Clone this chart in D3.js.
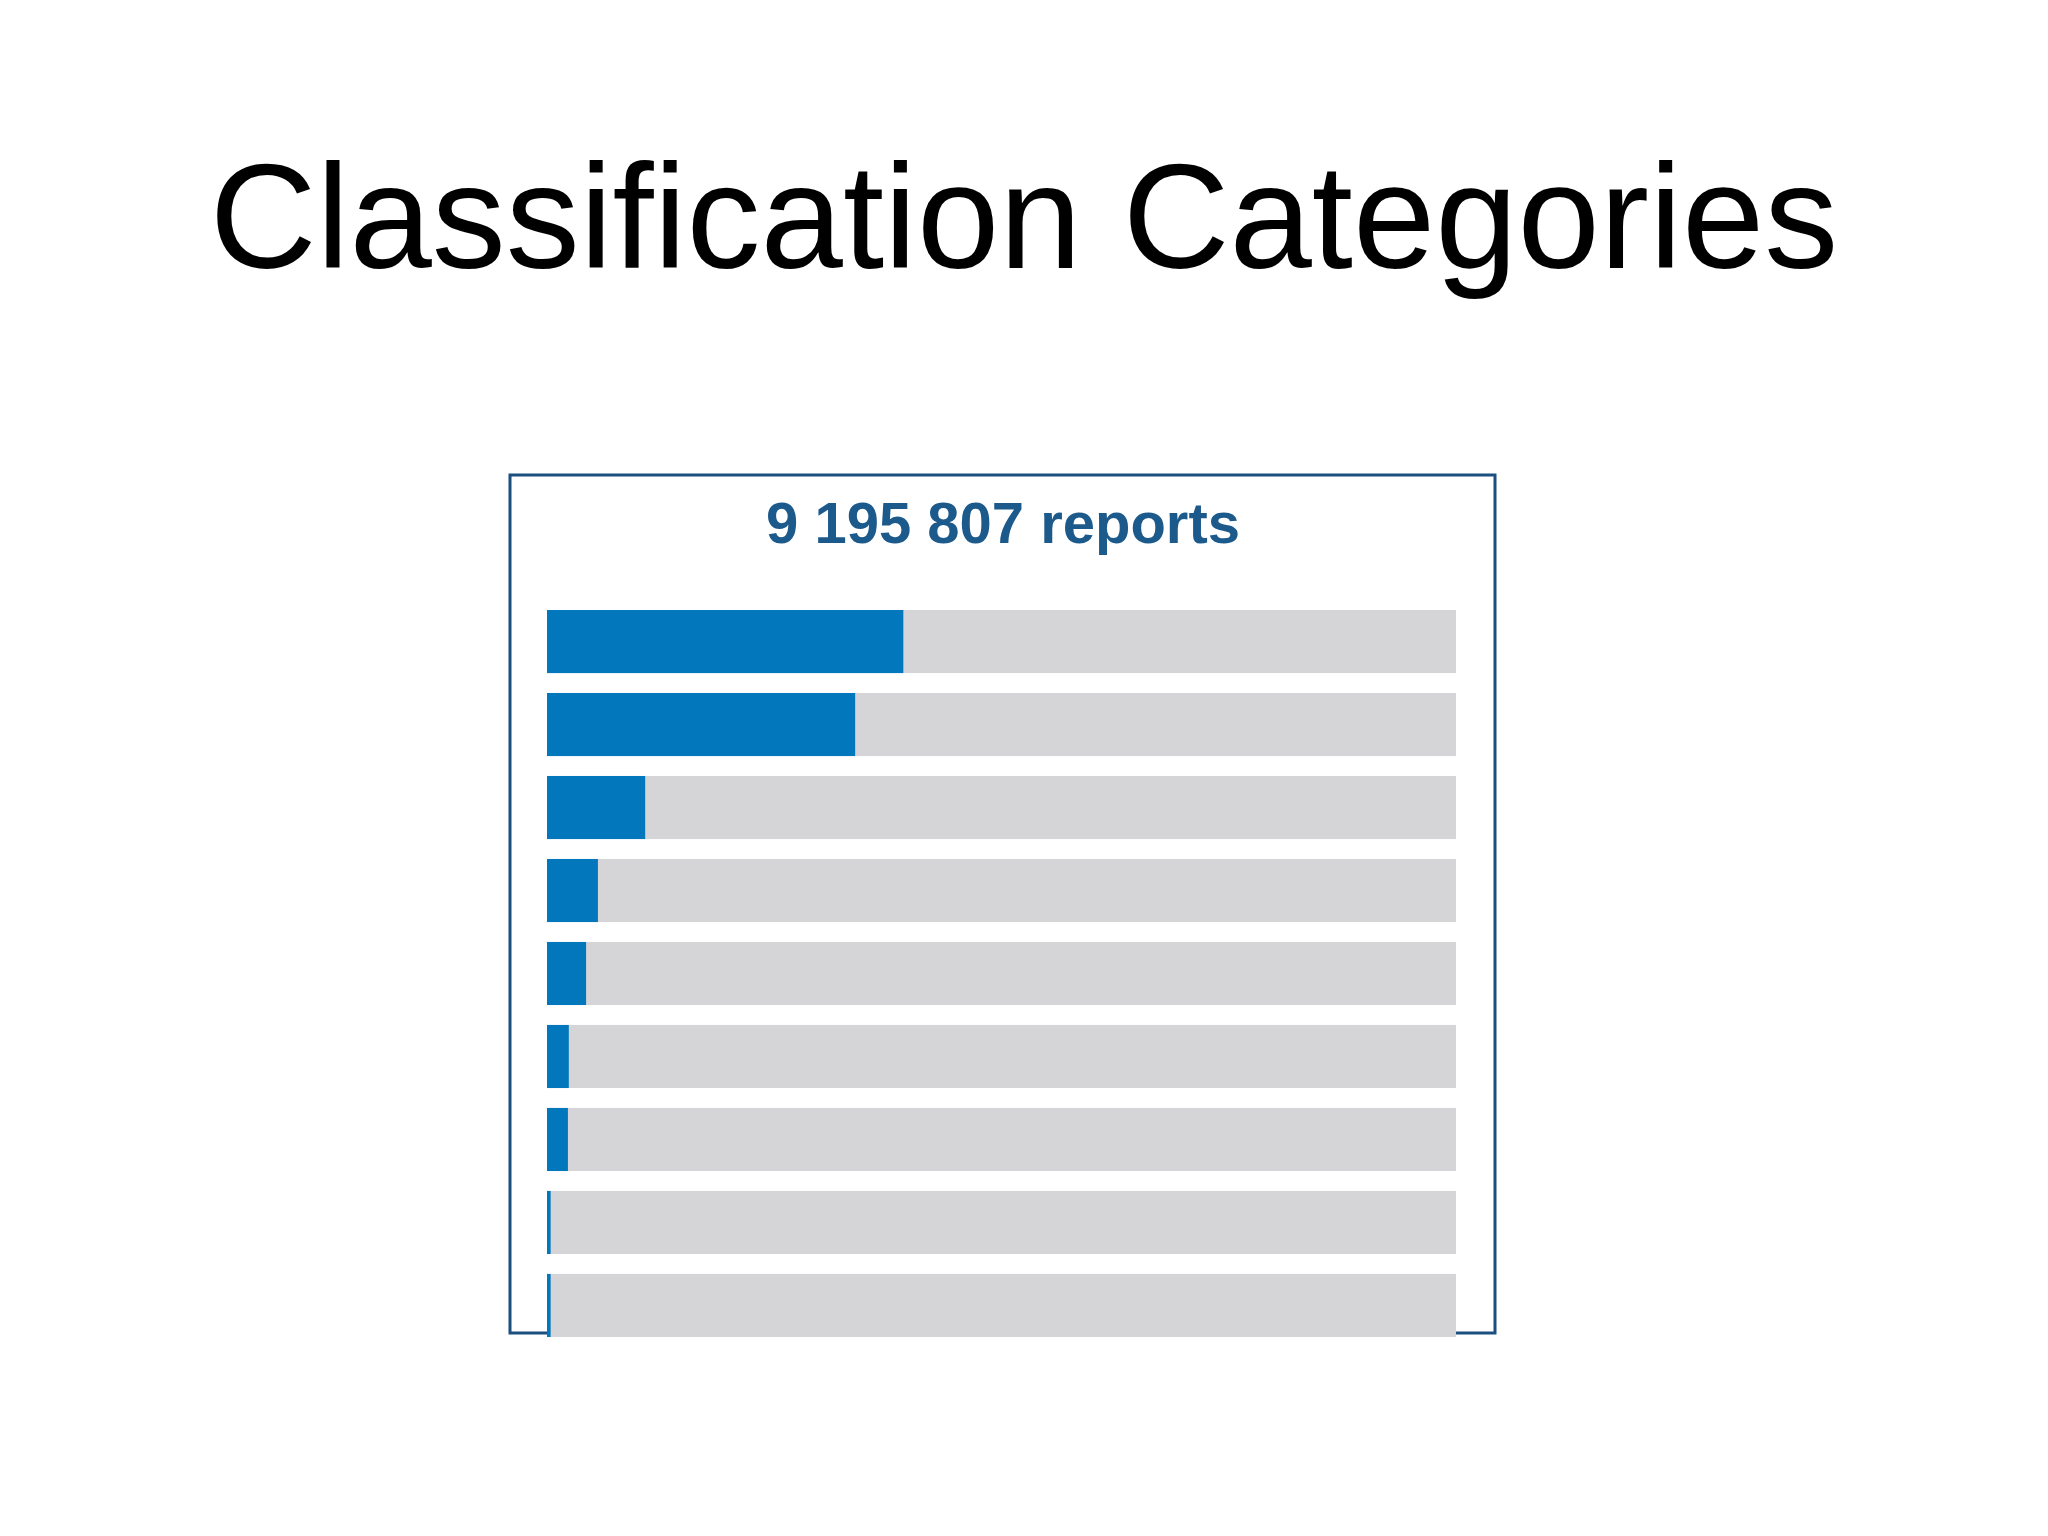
<!DOCTYPE html>
<html><head><meta charset="utf-8">
<script src="https://cdn.jsdelivr.net/npm/d3@7"></script>
<style>body{margin:0;background:#fff}</style></head>
<body><svg id="c" width="2048" height="1536"></svg>
<script>
const title = "Classification Categories";
const subtitle = "9 195 807 reports";
const categories = ["c1","c2","c3","c4","c5","c6","c7","c8","c9"];
const shares = [0.392,0.339,0.108,0.056,0.043,0.024,0.023,0.004,0.004];

const svg = d3.select("#c");
svg.append("rect").attr("width",2048).attr("height",1536).attr("fill","#fff");
svg.append("text").attr("x",1024).attr("y",268).attr("text-anchor","middle")
  .attr("font-family","Liberation Sans, Arial, sans-serif").attr("font-size",148)
  .attr("fill","#000").text(title);
svg.append("rect").attr("x",510).attr("y",475).attr("width",985).attr("height",858)
  .attr("fill","none").attr("stroke","#1b4f80").attr("stroke-width",3);
svg.append("text").attr("x",1003).attr("y",543).attr("text-anchor","middle")
  .attr("font-family","Liberation Sans, Arial, sans-serif").attr("font-weight","bold")
  .attr("font-size",58).attr("fill","#1d5a8c").text(subtitle);

const x = d3.scaleLinear().domain([0,1]).range([547,1456]);
const y = d3.scaleBand().domain(categories).range([610,1337]).paddingInner(0.24).paddingOuter(0);
const g = svg.append("g");
g.selectAll(".bg").data(categories).join("rect").attr("x",x(0)).attr("y",d=>y(d))
  .attr("width",x(1)-x(0)).attr("height",y.bandwidth()).attr("fill","#d5d5d7");
g.selectAll(".fg").data(shares).join("rect").attr("x",x(0)).attr("y",(d,i)=>y(categories[i]))
  .attr("width",d=>x(d)-x(0)).attr("height",y.bandwidth()).attr("fill","#0377bb");
</script></body></html>
